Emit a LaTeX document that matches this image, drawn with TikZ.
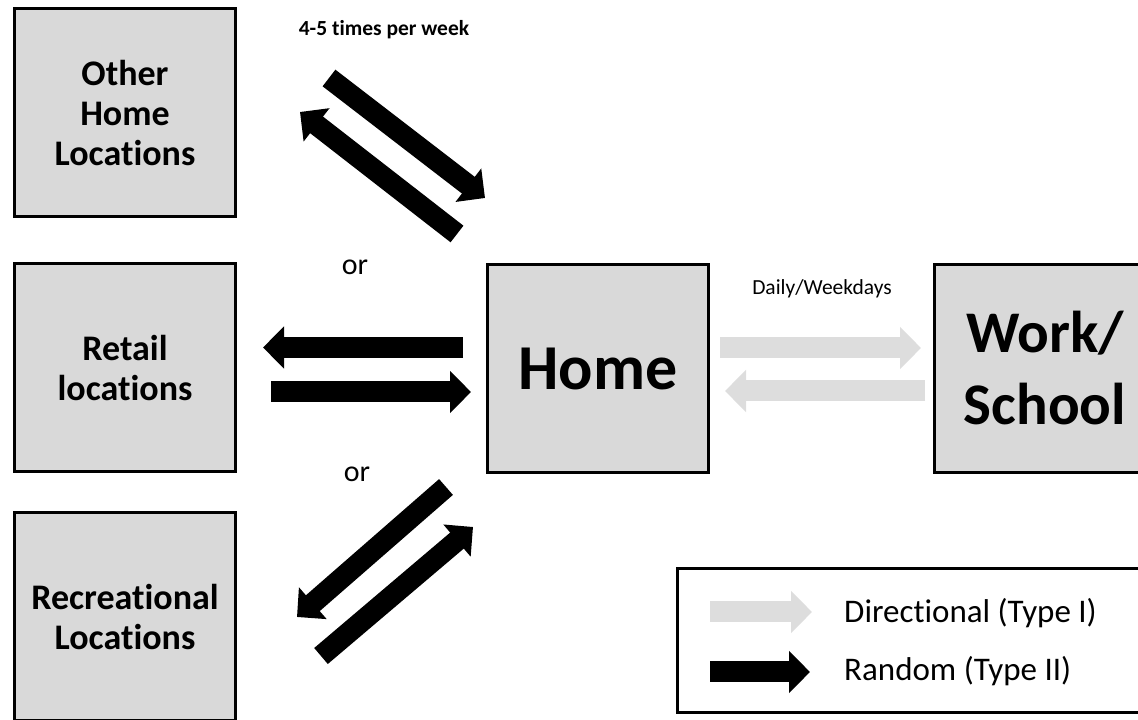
\documentclass[tikz,border=0pt]{standalone}
\usepackage{fontspec}
\setmainfont[Ligatures=NoCommon]{Carlito}
\usetikzlibrary{arrows.meta}
\definecolor{boxfill}{HTML}{D9D9D9}
\definecolor{dirgray}{HTML}{DDDDDD}
\tikzset{
  place/.style={draw=black, line width=3pt, fill=boxfill,
    minimum width=221pt, minimum height=208pt, align=center, inner sep=0pt,
    font=\fontsize{36}{40}\selectfont\bfseries},
  fatarrow/.style={line width=21pt, -{Triangle[length=21pt,width=41pt]}},
  directional/.style={fatarrow, color=dirgray},
  random/.style={fatarrow, color=black},
  note/.style={inner sep=0pt, anchor=base},
  smallnote/.style={note, font=\fontsize{21.5}{24}\selectfont},
  ornote/.style={note, font=\fontsize{30}{34}\selectfont},
  keynote/.style={inner sep=0pt, anchor=base west, font=\fontsize{33}{38}\selectfont}
}
\begin{document}
\begin{tikzpicture}[x=1pt,y=1pt]
\useasboundingbox (0,0) rectangle (1138,720);
\clip (0,0) rectangle (1138,720);

% places
\node[place] (other) at (125,607) {Other\\Home\\Locations};
\node[place] (retail) at (125,352) {Retail\\locations};
\node[place] (recre) at (125,103) {Recreational\\Locations};
\node[place, font=\fontsize{64}{72}\selectfont\bfseries] (home) at (598,351.5) {Home};
\node[place, font=\fontsize{59}{72}\selectfont\bfseries] (work) at (1045,351.5) {Work/\\School};

% labels
\node[smallnote, font=\fontsize{21.5}{24}\selectfont\bfseries] (freq) at (384,684) {4-5 times per week};
\node[smallnote] (daily) at (822,425) {Daily/Weekdays};
\node[ornote] (or1) at (355,445) {or};
\node[ornote] (or2) at (357,238) {or};

% arrow end points
\coordinate (hwA) at (720,372);   \coordinate (hwB) at (921,372);
\coordinate (whA) at (925,329);   \coordinate (whB) at (725,329);
\coordinate (hrA) at (463,372.5); \coordinate (hrB) at (263,372.5);
\coordinate (rhA) at (271,328);   \coordinate (rhB) at (471,328);
\coordinate (ohA) at (329,642);   \coordinate (ohB) at (485,522);
\coordinate (hoA) at (457,486);   \coordinate (hoB) at (300,608);
\coordinate (hcA) at (446,233);   \coordinate (hcB) at (297,103);
\coordinate (chA) at (321,64);    \coordinate (chB) at (473,193);

% trips
\draw[directional] (hwA) -- (hwB);
\draw[directional] (whA) -- (whB);
\draw[random] (hrA) -- (hrB);
\draw[random] (rhA) -- (rhB);
\draw[random] (ohA) -- (ohB);
\draw[random] (hoA) -- (hoB);
\draw[random] (hcA) -- (hcB);
\draw[random] (chA) -- (chB);

% legend
\node[draw=black, line width=3pt, fill=white, minimum width=473pt, minimum height=144pt, inner sep=0pt] (legend) at (913.5,79.5) {};
\coordinate (kdA) at (710,108); \coordinate (kdB) at (812,108);
\coordinate (krA) at (710,48);  \coordinate (krB) at (810,48);
\draw[directional] (kdA) -- (kdB);
\draw[random] (krA) -- (krB);
\node[keynote] (kdtext) at (844,97) {Directional (Type I)};
\node[keynote] (krtext) at (844,39) {Random (Type II)};
\end{tikzpicture}
\end{document}
